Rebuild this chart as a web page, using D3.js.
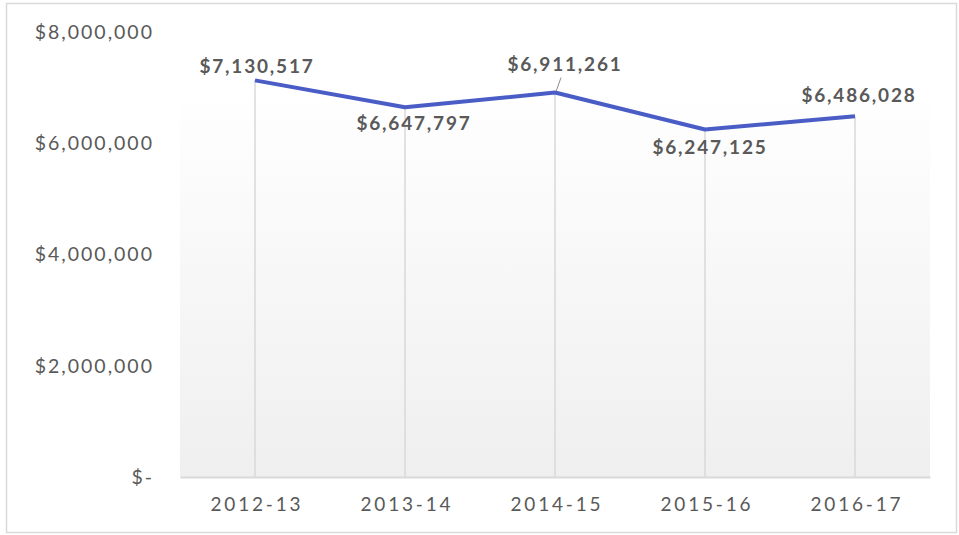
<!DOCTYPE html>
<html>
<head>
<meta charset="utf-8">
<script src="https://cdn.jsdelivr.net/npm/d3@7"></script>
<style>
  body { margin: 0; background: #fff; }
  text { font-family: "Century Gothic", "Lato", "DejaVu Sans", sans-serif; }
</style>
</head>
<body>
<div id="chart"></div>
<script>
// data
const years = ["2012-13", "2013-14", "2014-15", "2015-16", "2016-17"];
const spending = [7130517, 6647797, 6911261, 6247125, 6486028];
const yTicks = [0, 2000000, 4000000, 6000000, 8000000];
const backdropLevel = 7000000;

const W = 959, H = 535;
const margin = {top: 32, right: 29, bottom: 58, left: 180};
const width = W - margin.left - margin.right,
  height = H - margin.top - margin.bottom;

const svg = d3.select("#chart").append("svg")
  .attr("width", W).attr("height", H);

// outer border
svg.append("rect")
  .attr("x", 6.5).attr("y", 3.5)
  .attr("width", 950).attr("height", 529)
  .attr("fill", "#fff").attr("stroke", "#d9d9d9").attr("stroke-width", 1.5);

const defs = svg.append("defs");
const grad = defs.append("linearGradient").attr("id", "bg")
  .attr("x1", 0).attr("y1", 0).attr("x2", 0).attr("y2", 1);
grad.append("stop").attr("offset", "0%").attr("stop-color", "#ffffff");
grad.append("stop").attr("offset", "100%").attr("stop-color", "#efefef");

const g = svg.append("g").attr("transform", `translate(${margin.left},${margin.top})`);

const x = d3.scalePoint().domain(years).range([0, width]).padding(0.5);
const y = d3.scaleLinear().domain([0, 8000000]).range([height, 0]);

// gradient backdrop
g.append("rect")
  .attr("x", 0).attr("y", y(backdropLevel))
  .attr("width", width).attr("height", height - y(backdropLevel))
  .attr("fill", "url(#bg)");

// drop lines
g.selectAll(".drop").data(years).join("line")
  .attr("x1", d => x(d)).attr("x2", d => x(d))
  .attr("y1", (d, i) => y(spending[i])).attr("y2", height)
  .attr("stroke", "#d9d9d9").attr("stroke-width", 1.5);

// x axis
const xAxis = g.append("g").attr("transform", `translate(0,${height})`)
  .call(d3.axisBottom(x).tickSize(0).tickPadding(23));
xAxis.select(".domain").attr("stroke", "#d9d9d9").attr("stroke-width", 2);
xAxis.selectAll("text").attr("font-size", 19).attr("fill", "#595959")
  .attr("font-family", null).attr("dy", "0.6em")
  .attr("letter-spacing", 2.8).attr("dx", 1.4);

// y axis
const fmt = d => d === 0 ? "$-" : "$" + d3.format(",")(d);
const yAxis = g.append("g")
  .call(d3.axisLeft(y).tickValues(yTicks).tickFormat(fmt).tickSize(0).tickPadding(26));
yAxis.select(".domain").remove();
yAxis.selectAll("text").attr("font-size", 19.5).attr("fill", "#595959")
  .attr("font-family", null).attr("letter-spacing", 2);

// line
const line = d3.line().x((d, i) => x(years[i])).y(d => y(d));
g.append("path").datum(spending)
  .attr("d", line)
  .attr("fill", "none").attr("stroke", "#4a5dc6").attr("stroke-width", 4)
  .attr("stroke-linejoin", "round");

// leader line for 2014-15 label
g.append("line")
  .attr("x1", x(years[2]) + 1).attr("y1", y(spending[2]) - 1)
  .attr("x2", x(years[2]) + 6).attr("y2", y(spending[2]) - 15)
  .attr("stroke", "#8c8c8c").attr("stroke-width", 1);

// data labels (baseline offsets from the point)
const labelOffsetX = [2, 9, 10, 5, 4];
const labelOffsetY = [-7, 23, -22, 24, -14];
g.selectAll(".lbl").data(spending).join("text")
  .attr("x", (d, i) => x(years[i]) + labelOffsetX[i])
  .attr("y", (d, i) => y(d) + labelOffsetY[i])
  .attr("text-anchor", "middle")
  .attr("font-size", 19).attr("font-weight", "bold").attr("fill", "#595959")
  .attr("letter-spacing", 1.8)
  .text(d => "$" + d3.format(",")(d));
</script>
</body>
</html>
